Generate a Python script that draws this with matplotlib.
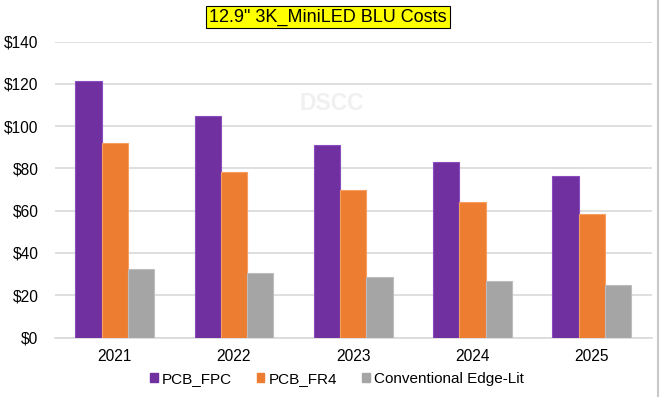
import matplotlib
matplotlib.use("Agg")
import matplotlib.pyplot as plt
import numpy as np
from matplotlib.lines import Line2D

years = ["2021", "2022", "2023", "2024", "2025"]
pcb_fpc = [121.4, 104.7, 91.1, 82.9, 76.6]
pcb_fr4 = [91.8, 78.3, 69.7, 63.9, 58.2]
edge_lit = [32.6, 30.6, 28.4, 26.5, 24.9]
series_names = ["PCB_FPC", "PCB_FR4", "Conventional Edge-Lit"]
yticks = [0, 20, 40, 60, 80, 100, 120, 140]
title = '12.9" 3K_MiniLED BLU Costs'

colors = ["#7030A0", "#ED7D31", "#A5A5A5"]
edges = ["#8a4cc0", "#f5a060", "#bdbdbd"]

plt.rcParams['font.family'] = ['Liberation Sans', 'DejaVu Sans']

fig = plt.figure(figsize=(6.6, 3.97), dpi=100)
ax = fig.add_axes([55/660, 59.5/397, 596.5/660, 296/397])

x = np.arange(len(years))
w = 0.22
for i, (vals, c, ec, name) in enumerate(zip([pcb_fpc, pcb_fr4, edge_lit], colors, edges, series_names)):
    ax.bar(x + (i - 1) * w, vals, width=w, color=c, edgecolor=ec, linewidth=0.8, label=name, zorder=3)

ax.set_xlim(-0.5, len(years) - 0.5)
ax.set_ylim(0, 140)
ax.set_yticks(yticks)
ax.set_yticklabels([f"${v}" for v in yticks])
ax.set_xticks(x)
ax.set_xticklabels(years)
ax.tick_params(axis='both', length=0, labelsize=11.2, colors="#000000")
ax.tick_params(axis='y', pad=12)
ax.tick_params(axis='x', pad=8)
ax.yaxis.grid(True, color="#d9d9d9", linewidth=1.2, zorder=0)
ax.set_axisbelow(True)
for s in ["top", "right", "left"]:
    ax.spines[s].set_visible(False)
ax.spines["bottom"].set_color("#d9d9d9")
ax.spines["bottom"].set_linewidth(1.2)

# watermark
ax.text(332/660, 1 - 103/397, "DSCC", transform=fig.transFigure, ha="center", va="center",
        fontsize=16.5, fontweight="bold", color="#f0f0f0", zorder=1)

# title
fig.text(328/660, 1 - 17/397, title, ha="center", va="center", fontsize=13,
         bbox=dict(boxstyle="square,pad=0.15", facecolor="#ffff00", edgecolor="#000000", linewidth=0.8))

# right border line
fig.add_artist(Line2D([657.5/660, 657.5/660], [0, 1], transform=fig.transFigure, color="#c8c8c8", linewidth=1.5))

handles = [plt.Rectangle((0, 0), 1, 1, color=c) for c in colors]
leg = fig.legend(handles, series_names, loc="center", bbox_to_anchor=(337/660, 1 - 379/397),
                 ncol=3, frameon=False, fontsize=11, handlelength=0.5, handleheight=0.5,
                 handletextpad=0.3, columnspacing=1.6)

fig.savefig("out.png", dpi=100)
